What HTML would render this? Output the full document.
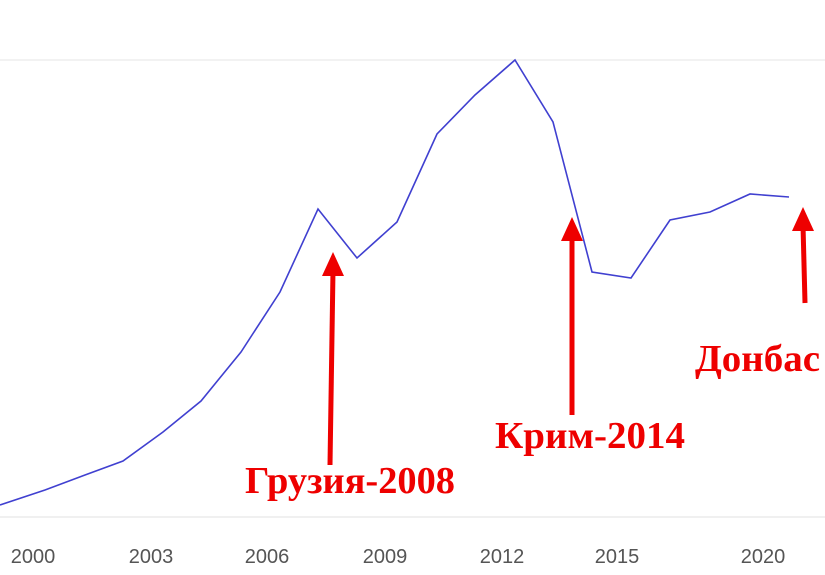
<!DOCTYPE html>
<html><head><meta charset="utf-8"><style>
body{margin:0;background:#fff;}
svg{display:block}
</style></head><body>
<svg width="825" height="575" xmlns="http://www.w3.org/2000/svg">
<rect width="825" height="575" fill="#fff"/>
<line x1="0" y1="60" x2="825" y2="60" stroke="#e6e6e6" stroke-width="1"/>
<line x1="0" y1="517" x2="825" y2="517" stroke="#e0e0e0" stroke-width="1"/>
<polyline fill="none" stroke="#4040d0" stroke-width="1.6" points="0,505 45,490 85,475 123,461 163,432 201,401 241,352 280,292 318,209 357,258 397,222 437,134 475,95 515,60 553,122 592,272 631,278 670,220 710,212 750,194 789,197"/>
<g font-family="Liberation Sans, sans-serif" font-size="20" fill="#555" text-anchor="middle">
<text x="33" y="563">2000</text>
<text x="151" y="563">2003</text>
<text x="267" y="563">2006</text>
<text x="385" y="563">2009</text>
<text x="502" y="563">2012</text>
<text x="617" y="563">2015</text>
<text x="763" y="563">2020</text>
</g>
<g stroke="#ee0000" stroke-width="5" fill="none">
<line x1="330" y1="465" x2="333" y2="270"/>
<line x1="572" y1="415" x2="572" y2="235"/>
<line x1="805" y1="303" x2="803" y2="225"/>
</g>
<g fill="#ee0000">
<polygon points="333,252 322,276 344,276"/>
<polygon points="572,217 561,241 583,241"/>
<polygon points="803,207 792,231 814,231"/>
</g>
<g font-family="Liberation Serif, serif" font-weight="bold" font-size="38" fill="#ee0000">
<text x="245" y="493" textLength="210" lengthAdjust="spacingAndGlyphs">Грузия-2008</text>
<text x="495" y="448" textLength="190" lengthAdjust="spacingAndGlyphs">Крим-2014</text>
<text x="695" y="371" textLength="125" lengthAdjust="spacingAndGlyphs">Донбас</text>
</g>
</svg>
</body></html>
